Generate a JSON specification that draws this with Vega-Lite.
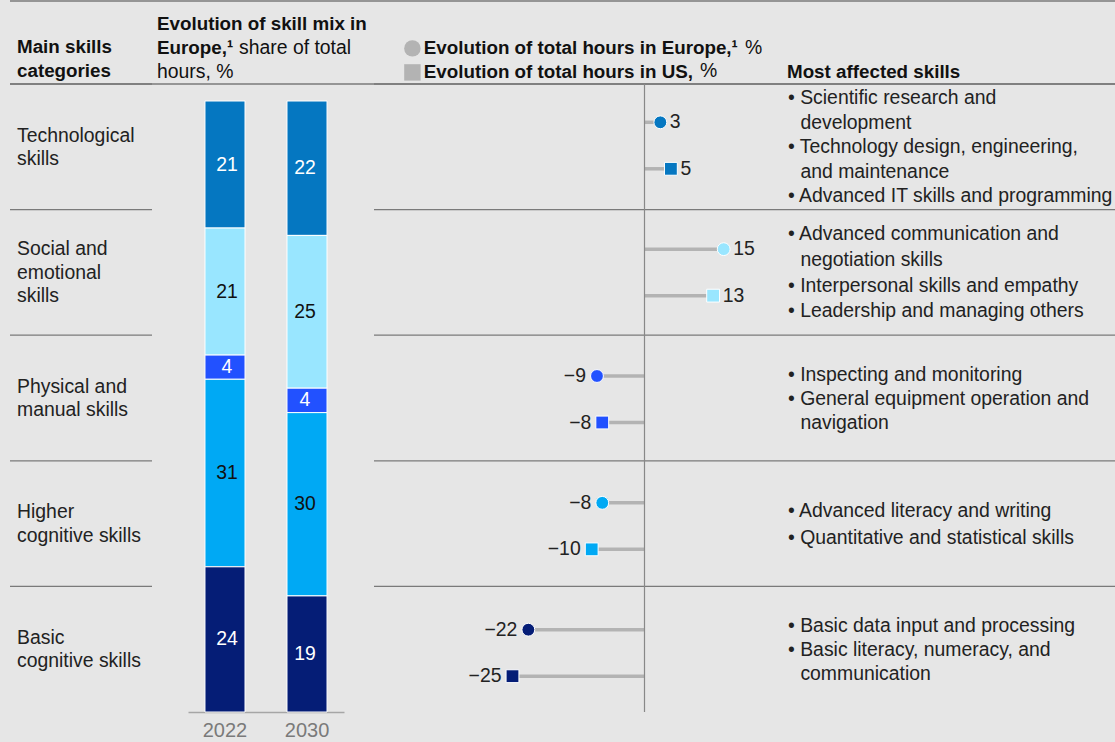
{
  "$schema": "https://vega.github.io/schema/vega-lite/v6.json",
  "width": 1115,
  "height": 742,
  "autosize": {"type": "fit", "contains": "padding"},
  "padding": 0,
  "background": "#e6e6e6",
  "config": {"view": {"stroke": null}, "font": "Liberation Sans"},
  "datasets": {
    "mix": [
      {"year": "2022", "cat": "Technological skills", "share": 21},
      {"year": "2022", "cat": "Social and emotional skills", "share": 21},
      {"year": "2022", "cat": "Physical and manual skills", "share": 4},
      {"year": "2022", "cat": "Higher cognitive skills", "share": 31},
      {"year": "2022", "cat": "Basic cognitive skills", "share": 24},
      {"year": "2030", "cat": "Technological skills", "share": 22},
      {"year": "2030", "cat": "Social and emotional skills", "share": 25},
      {"year": "2030", "cat": "Physical and manual skills", "share": 4},
      {"year": "2030", "cat": "Higher cognitive skills", "share": 30},
      {"year": "2030", "cat": "Basic cognitive skills", "share": 19}
    ],
    "hours": [
      {"cat": "Technological skills", "region": "Europe", "change": 3},
      {"cat": "Technological skills", "region": "US", "change": 5},
      {"cat": "Social and emotional skills", "region": "Europe", "change": 15},
      {"cat": "Social and emotional skills", "region": "US", "change": 13},
      {"cat": "Physical and manual skills", "region": "Europe", "change": -9},
      {"cat": "Physical and manual skills", "region": "US", "change": -8},
      {"cat": "Higher cognitive skills", "region": "Europe", "change": -8},
      {"cat": "Higher cognitive skills", "region": "US", "change": -10},
      {"cat": "Basic cognitive skills", "region": "Europe", "change": -22},
      {"cat": "Basic cognitive skills", "region": "US", "change": -25}
    ],
    "categories": [
      {"cat": "Technological skills", "label": "Technological\nskills", "skills": "• Scientific research and\n\u200b\u00a0\u00a0\u200adevelopment\n• Technology design, engineering,\n\u200b\u00a0\u00a0\u200aand maintenance\n• Advanced IT skills and programming"},
      {"cat": "Social and emotional skills", "label": "Social and\nemotional\nskills", "skills": "• Advanced communication and\n\u200b\u00a0\u00a0\u200anegotiation skills\n• Interpersonal skills and empathy\n• Leadership and managing others"},
      {"cat": "Physical and manual skills", "label": "Physical and\nmanual skills", "skills": "• Inspecting and monitoring\n• General equipment operation and\n\u200b\u00a0\u00a0\u200anavigation"},
      {"cat": "Higher cognitive skills", "label": "Higher\ncognitive skills", "skills": "• Advanced literacy and writing\n• Quantitative and statistical skills"},
      {"cat": "Basic cognitive skills", "label": "Basic\ncognitive skills", "skills": "• Basic data input and processing\n• Basic literacy, numeracy, and\n\u200b\u00a0\u00a0\u200acommunication"}
    ]
  },
  "layer": [
    {
      "data": {"values": [{"edge": "top"}, {"edge": "header"}]},
      "mark": {"type": "rule", "color": "#7a7a7a", "strokeWidth": 1.3},
      "encoding": {
        "x": {"datum": 0, "type": "quantitative", "scale": {"domain": [0, 1], "range": [10, 1115]}, "axis": null},
        "x2": {"datum": 1},
        "y": {"field": "edge", "type": "nominal", "scale": {"type": "point", "padding": 0, "domain": ["top", "header"], "range": [1, 84]}, "axis": null}
      }
    },
    {
      "data": {"name": "categories"},
      "mark": {"type": "rule", "color": "#7a7a7a", "strokeWidth": 1.3},
      "encoding": {
        "x": {"datum": 0, "type": "quantitative", "scale": {"domain": [0, 1], "range": [10, 152]}, "axis": null},
        "x2": {"datum": 1},
        "y": {"field": "cat", "type": "nominal", "bandPosition": 0, "scale": {"domain": ["Technological skills", "Social and emotional skills", "Physical and manual skills", "Higher cognitive skills", "Basic cognitive skills"], "range": [84, 712], "paddingInner": 0, "paddingOuter": 0}, "axis": null}
      }
    },
    {
      "data": {"name": "categories"},
      "mark": {"type": "rule", "color": "#7a7a7a", "strokeWidth": 1.3},
      "encoding": {
        "x": {"datum": 0, "type": "quantitative", "scale": {"domain": [0, 1], "range": [374, 1115]}, "axis": null},
        "x2": {"datum": 1},
        "y": {"field": "cat", "type": "nominal", "bandPosition": 0, "scale": {"domain": ["Technological skills", "Social and emotional skills", "Physical and manual skills", "Higher cognitive skills", "Basic cognitive skills"], "range": [84, 712], "paddingInner": 0, "paddingOuter": 0}, "axis": null}
      }
    },
    {
      "data": {"name": "categories"},
      "transform": [{"filter": "length(split(datum.label, '\\n')) == 2"}],
      "mark": {"type": "text", "align": "left", "baseline": "middle", "dy": -11.25, "fontSize": 19.4, "lineHeight": 23.5, "lineBreak": "\n", "color": "#222222"},
      "encoding": {
        "x": {"datum": 0, "type": "quantitative", "scale": {"domain": [0, 1], "range": [17, 152]}, "axis": null},
        "y": {"field": "cat", "type": "nominal", "scale": {"domain": ["Technological skills", "Social and emotional skills", "Physical and manual skills", "Higher cognitive skills", "Basic cognitive skills"], "range": [84, 712], "paddingInner": 0, "paddingOuter": 0}, "axis": null},
        "text": {"field": "label"}
      }
    },
    {
      "data": {"name": "categories"},
      "transform": [{"filter": "length(split(datum.label, '\\n')) == 3"}],
      "mark": {"type": "text", "align": "left", "baseline": "middle", "dy": -23, "fontSize": 19.4, "lineHeight": 23.5, "lineBreak": "\n", "color": "#222222"},
      "encoding": {
        "x": {"datum": 0, "type": "quantitative", "scale": {"domain": [0, 1], "range": [17, 152]}, "axis": null},
        "y": {"field": "cat", "type": "nominal", "scale": {"domain": ["Technological skills", "Social and emotional skills", "Physical and manual skills", "Higher cognitive skills", "Basic cognitive skills"], "range": [84, 712], "paddingInner": 0, "paddingOuter": 0}, "axis": null},
        "text": {"field": "label"}
      }
    },
    {
      "data": {"name": "mix"},
      "mark": {"type": "bar", "stroke": "#ffffff", "strokeWidth": 1},
      "encoding": {
        "x": {"field": "year", "type": "ordinal", "scale": {"range": [188, 344], "paddingInner": 0.512, "paddingOuter": 0.207}, "axis": {"orient": "bottom", "offset": -30, "title": null, "ticks": false, "domainColor": "#a6a6a6", "domainWidth": 1.6, "labelFontSize": 20, "labelColor": "#7a7a7a", "labelPadding": 8, "labelAngle": 0}},
        "y": {"field": "share", "type": "quantitative", "stack": "normalize", "scale": {"domain": [0, 1], "range": [712, 101]}, "axis": null},
        "order": {"field": "cat", "sort": "ascending"},
        "color": {"field": "cat", "type": "nominal", "scale": {"domain": ["Technological skills", "Social and emotional skills", "Physical and manual skills", "Higher cognitive skills", "Basic cognitive skills"], "range": ["#0577C1", "#99E6FF", "#2251FF", "#00A9F4", "#051D76"]}, "legend": null}
      }
    },
    {
      "data": {"name": "mix"},
      "mark": {"type": "text", "fontSize": 19.4, "baseline": "middle"},
      "encoding": {
        "x": {"field": "year", "type": "ordinal", "scale": {"range": [188, 344], "paddingInner": 0.512, "paddingOuter": 0.207}, "axis": null},
        "y": {"field": "share", "type": "quantitative", "stack": "normalize", "bandPosition": 0.5, "scale": {"domain": [0, 1], "range": [712, 101]}, "axis": null},
        "order": {"field": "cat", "sort": "ascending"},
        "text": {"field": "share", "type": "quantitative"},
        "color": {"field": "cat", "type": "nominal", "scale": {"domain": ["Technological skills", "Social and emotional skills", "Physical and manual skills", "Higher cognitive skills", "Basic cognitive skills"], "range": ["#ffffff", "#111111", "#ffffff", "#111111", "#ffffff"]}, "legend": null}
      }
    },
    {
      "data": {"name": "hours"},
      "mark": {"type": "rule", "color": "#b3b3b3", "strokeWidth": 3.5},
      "encoding": {
        "x": {"field": "change", "type": "quantitative", "scale": {"domain": [-25, 15], "range": [512.5, 723.7]}, "axis": null},
        "x2": {"datum": 0},
        "y": {"field": "cat", "type": "nominal", "scale": {"domain": ["Technological skills", "Social and emotional skills", "Physical and manual skills", "Higher cognitive skills", "Basic cognitive skills"], "range": [82.3, 716.55], "paddingInner": 0, "paddingOuter": 0}, "axis": null},
        "yOffset": {"field": "region", "type": "nominal", "scale": {"type": "point", "padding": 0, "domain": ["Europe", "US"], "range": [40, 86.5]}}
      }
    },
    {
      "data": {"values": [{}]},
      "mark": {"type": "rule", "color": "#888888", "strokeWidth": 1.2},
      "encoding": {
        "x": {"datum": 0, "type": "quantitative", "scale": {"domain": [-25, 15], "range": [512.5, 723.7]}, "axis": null},
        "y": {"datum": 0, "type": "quantitative", "scale": {"domain": [0, 1], "range": [84, 712]}, "axis": null},
        "y2": {"datum": 1}
      }
    },
    {
      "data": {"name": "hours"},
      "mark": {"type": "point", "filled": true, "size": 165, "opacity": 1, "stroke": "#ffffff", "strokeWidth": 1},
      "encoding": {
        "x": {"field": "change", "type": "quantitative", "scale": {"domain": [-25, 15], "range": [512.5, 723.7]}, "axis": null},
        "y": {"field": "cat", "type": "nominal", "scale": {"domain": ["Technological skills", "Social and emotional skills", "Physical and manual skills", "Higher cognitive skills", "Basic cognitive skills"], "range": [82.3, 716.55], "paddingInner": 0, "paddingOuter": 0}, "axis": null},
        "yOffset": {"field": "region", "type": "nominal", "scale": {"type": "point", "padding": 0, "domain": ["Europe", "US"], "range": [40, 86.5]}},
        "color": {"field": "cat", "type": "nominal", "scale": {"domain": ["Technological skills", "Social and emotional skills", "Physical and manual skills", "Higher cognitive skills", "Basic cognitive skills"], "range": ["#0577C1", "#99E6FF", "#2251FF", "#00A9F4", "#051D76"]}, "legend": null},
        "shape": {"field": "region", "type": "nominal", "scale": {"domain": ["Europe", "US"], "range": ["circle", "square"]}, "legend": {"title": null, "orient": "none", "legendX": 403, "legendY": 39, "direction": "vertical", "padding": 0, "symbolSize": 270, "symbolFillColor": "#b3b3b3", "symbolStrokeColor": "#b3b3b3", "symbolStrokeWidth": 0, "labelFontSize": 18.8, "labelFontWeight": "bold", "labelColor": "#111111", "labelOffset": 2, "rowPadding": 4, "labelLimit": 0, "labelExpr": "datum.value == 'Europe' ? 'Evolution of total hours in Europe,¹' : 'Evolution of total hours in US,'"}}
      }
    },
    {
      "data": {"name": "hours"},
      "transform": [{"filter": "datum.change >= 0"}],
      "mark": {"type": "text", "align": "left", "baseline": "middle", "dx": 9.5, "fontSize": 19.4, "color": "#222222"},
      "encoding": {
        "x": {"field": "change", "type": "quantitative", "scale": {"domain": [-25, 15], "range": [512.5, 723.7]}, "axis": null},
        "y": {"field": "cat", "type": "nominal", "scale": {"domain": ["Technological skills", "Social and emotional skills", "Physical and manual skills", "Higher cognitive skills", "Basic cognitive skills"], "range": [82.3, 716.55], "paddingInner": 0, "paddingOuter": 0}, "axis": null},
        "yOffset": {"field": "region", "type": "nominal", "scale": {"type": "point", "padding": 0, "domain": ["Europe", "US"], "range": [40, 86.5]}},
        "text": {"field": "change", "type": "quantitative", "format": "d"}
      }
    },
    {
      "data": {"name": "hours"},
      "transform": [{"filter": "datum.change < 0"}],
      "mark": {"type": "text", "align": "right", "baseline": "middle", "dx": -11, "fontSize": 19.4, "color": "#222222"},
      "encoding": {
        "x": {"field": "change", "type": "quantitative", "scale": {"domain": [-25, 15], "range": [512.5, 723.7]}, "axis": null},
        "y": {"field": "cat", "type": "nominal", "scale": {"domain": ["Technological skills", "Social and emotional skills", "Physical and manual skills", "Higher cognitive skills", "Basic cognitive skills"], "range": [82.3, 716.55], "paddingInner": 0, "paddingOuter": 0}, "axis": null},
        "yOffset": {"field": "region", "type": "nominal", "scale": {"type": "point", "padding": 0, "domain": ["Europe", "US"], "range": [40, 86.5]}},
        "text": {"field": "change", "type": "quantitative", "format": "d"}
      }
    },
    {
      "data": {"name": "categories"},
      "transform": [{"filter": "length(split(datum.skills, '\\n')) == 5"}],
      "mark": {"type": "text", "align": "left", "baseline": "middle", "dy": -48.5, "fontSize": 19.4, "lineHeight": 24.5, "lineBreak": "\n", "color": "#222222"},
      "encoding": {
        "x": {"datum": 0, "type": "quantitative", "scale": {"domain": [0, 1], "range": [788, 1115]}, "axis": null},
        "y": {"field": "cat", "type": "nominal", "scale": {"domain": ["Technological skills", "Social and emotional skills", "Physical and manual skills", "Higher cognitive skills", "Basic cognitive skills"], "range": [84, 712], "paddingInner": 0, "paddingOuter": 0}, "axis": null},
        "text": {"field": "skills"}
      }
    },
    {
      "data": {"name": "categories"},
      "transform": [{"filter": "length(split(datum.skills, '\\n')) == 4"}],
      "mark": {"type": "text", "align": "left", "baseline": "middle", "dy": -38, "fontSize": 19.4, "lineHeight": 25.7, "lineBreak": "\n", "color": "#222222"},
      "encoding": {
        "x": {"datum": 0, "type": "quantitative", "scale": {"domain": [0, 1], "range": [788, 1115]}, "axis": null},
        "y": {"field": "cat", "type": "nominal", "scale": {"domain": ["Technological skills", "Social and emotional skills", "Physical and manual skills", "Higher cognitive skills", "Basic cognitive skills"], "range": [84, 712], "paddingInner": 0, "paddingOuter": 0}, "axis": null},
        "text": {"field": "skills"}
      }
    },
    {
      "data": {"name": "categories"},
      "transform": [{"filter": "length(split(datum.skills, '\\n')) == 3"}],
      "mark": {"type": "text", "align": "left", "baseline": "middle", "dy": -23.5, "fontSize": 19.4, "lineHeight": 24, "lineBreak": "\n", "color": "#222222"},
      "encoding": {
        "x": {"datum": 0, "type": "quantitative", "scale": {"domain": [0, 1], "range": [788, 1115]}, "axis": null},
        "y": {"field": "cat", "type": "nominal", "scale": {"domain": ["Technological skills", "Social and emotional skills", "Physical and manual skills", "Higher cognitive skills", "Basic cognitive skills"], "range": [84, 712], "paddingInner": 0, "paddingOuter": 0}, "axis": null},
        "text": {"field": "skills"}
      }
    },
    {
      "data": {"name": "categories"},
      "transform": [{"filter": "length(split(datum.skills, '\\n')) == 2"}],
      "mark": {"type": "text", "align": "left", "baseline": "middle", "dy": -13, "fontSize": 19.4, "lineHeight": 27, "lineBreak": "\n", "color": "#222222"},
      "encoding": {
        "x": {"datum": 0, "type": "quantitative", "scale": {"domain": [0, 1], "range": [788, 1115]}, "axis": null},
        "y": {"field": "cat", "type": "nominal", "scale": {"domain": ["Technological skills", "Social and emotional skills", "Physical and manual skills", "Higher cognitive skills", "Basic cognitive skills"], "range": [84, 712], "paddingInner": 0, "paddingOuter": 0}, "axis": null},
        "text": {"field": "skills"}
      }
    },
    {
      "data": {"values": [{"edge": "header", "title": "Main skills\ncategories"}]},
      "mark": {"type": "text", "align": "left", "baseline": "alphabetic", "dy": -30.7, "fontSize": 18.8, "fontWeight": "bold", "lineHeight": 24, "lineBreak": "\n", "color": "#111111"},
      "encoding": {
        "x": {"datum": 0, "type": "quantitative", "scale": {"domain": [0, 1], "range": [17, 152]}, "axis": null},
        "y": {"field": "edge", "type": "nominal", "scale": {"type": "point", "padding": 0, "domain": ["top", "header"], "range": [1, 84]}, "axis": null},
        "text": {"field": "title"}
      }
    },
    {
      "data": {"values": [{"edge": "header", "title": "Evolution of skill mix in\nEurope,¹"}]},
      "mark": {"type": "text", "align": "left", "baseline": "alphabetic", "dy": -54, "fontSize": 18.8, "fontWeight": "bold", "lineHeight": 23.6, "lineBreak": "\n", "color": "#111111"},
      "encoding": {
        "x": {"datum": 0, "type": "quantitative", "scale": {"domain": [0, 1], "range": [157, 375]}, "axis": null},
        "y": {"field": "edge", "type": "nominal", "scale": {"type": "point", "padding": 0, "domain": ["top", "header"], "range": [1, 84]}, "axis": null},
        "text": {"field": "title"}
      }
    },
    {
      "data": {"values": [{"edge": "header", "title": "share of total"}]},
      "mark": {"type": "text", "align": "left", "baseline": "alphabetic", "dy": -30.5, "fontSize": 19.4, "color": "#111111"},
      "encoding": {
        "x": {"datum": 0, "type": "quantitative", "scale": {"domain": [0, 1], "range": [239, 375]}, "axis": null},
        "y": {"field": "edge", "type": "nominal", "scale": {"type": "point", "padding": 0, "domain": ["top", "header"], "range": [1, 84]}, "axis": null},
        "text": {"field": "title"}
      }
    },
    {
      "data": {"values": [{"edge": "header", "title": "hours, %"}]},
      "mark": {"type": "text", "align": "left", "baseline": "alphabetic", "dy": -6.5, "fontSize": 19.4, "color": "#111111"},
      "encoding": {
        "x": {"datum": 0, "type": "quantitative", "scale": {"domain": [0, 1], "range": [157, 375]}, "axis": null},
        "y": {"field": "edge", "type": "nominal", "scale": {"type": "point", "padding": 0, "domain": ["top", "header"], "range": [1, 84]}, "axis": null},
        "text": {"field": "title"}
      }
    },
    {
      "data": {"values": [{"edge": "header", "title": "%"}]},
      "mark": {"type": "text", "align": "left", "baseline": "alphabetic", "dy": -29.7, "fontSize": 19.4, "color": "#111111"},
      "encoding": {
        "x": {"datum": 0, "type": "quantitative", "scale": {"domain": [0, 1], "range": [745, 787]}, "axis": null},
        "y": {"field": "edge", "type": "nominal", "scale": {"type": "point", "padding": 0, "domain": ["top", "header"], "range": [1, 84]}, "axis": null},
        "text": {"field": "title"}
      }
    },
    {
      "data": {"values": [{"edge": "header", "title": "%"}]},
      "mark": {"type": "text", "align": "left", "baseline": "alphabetic", "dy": -6.7, "fontSize": 19.4, "color": "#111111"},
      "encoding": {
        "x": {"datum": 0, "type": "quantitative", "scale": {"domain": [0, 1], "range": [700, 787]}, "axis": null},
        "y": {"field": "edge", "type": "nominal", "scale": {"type": "point", "padding": 0, "domain": ["top", "header"], "range": [1, 84]}, "axis": null},
        "text": {"field": "title"}
      }
    },
    {
      "data": {"values": [{"edge": "header", "title": "Most affected skills"}]},
      "mark": {"type": "text", "align": "left", "baseline": "alphabetic", "dy": -6.3, "fontSize": 18.8, "fontWeight": "bold", "color": "#111111"},
      "encoding": {
        "x": {"datum": 0, "type": "quantitative", "scale": {"domain": [0, 1], "range": [787, 1115]}, "axis": null},
        "y": {"field": "edge", "type": "nominal", "scale": {"type": "point", "padding": 0, "domain": ["top", "header"], "range": [1, 84]}, "axis": null},
        "text": {"field": "title"}
      }
    }
  ],
  "resolve": {
    "scale": {"x": "independent", "y": "independent", "color": "independent", "shape": "independent", "yOffset": "independent"},
    "axis": {"x": "independent", "y": "independent"},
    "legend": {"color": "independent", "shape": "independent"}
  }
}
